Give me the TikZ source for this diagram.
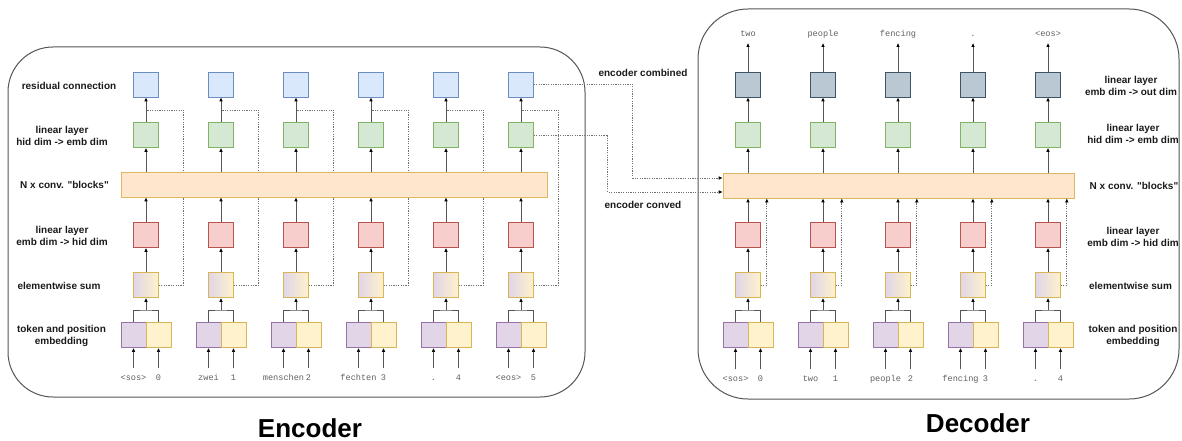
\documentclass[tikz,border=0pt]{standalone}
\usepackage{fontspec}
\setmainfont{Liberation Sans}[Ligatures=TeXOff]
\setmonofont{Liberation Mono}
\usetikzlibrary{arrows.meta,calc}
\definecolor{bluef}{HTML}{DAE8FC}\definecolor{bluel}{HTML}{6C8EBF}
\definecolor{greenf}{HTML}{D5E8D4}\definecolor{greenl}{HTML}{82B366}
\definecolor{redf}{HTML}{F8CECC}\definecolor{redl}{HTML}{B85450}
\definecolor{purpf}{HTML}{E1D5E7}\definecolor{purpl}{HTML}{9673A6}
\definecolor{yelf}{HTML}{FFF2CC}\definecolor{yell}{HTML}{D6B656}
\definecolor{orf}{HTML}{FFE6CC}\definecolor{orl}{HTML}{DDB860}
\definecolor{darkf}{HTML}{BAC8D3}\definecolor{darkl}{HTML}{3F5566}
\definecolor{linec}{HTML}{555555}
\definecolor{dotc}{HTML}{707070}
\definecolor{frame}{HTML}{555555}
\definecolor{tokc}{HTML}{606060}
\definecolor{lblc}{HTML}{1A1A1A}
\begin{document}
\begin{tikzpicture}[x=1pt,y=-1pt,
  box/.style={draw, minimum width=25pt, minimum height=25pt, inner sep=0pt, line width=0.6pt},
  bbox/.style={box, fill=bluef, draw=bluel},
  gbox/.style={box, fill=greenf, draw=greenl},
  rbox/.style={box, fill=redf, draw=redl},
  pbox/.style={box, fill=purpf, draw=purpl},
  ybox/.style={box, fill=yelf, draw=yell},
  dbox/.style={box, fill=darkf, draw=darkl},
  sbox/.style={box, left color=purpf, right color=yelf, draw=yell},
  convbar/.style={draw=orl, fill=orf, line width=0.6pt, minimum height=25pt, inner sep=0pt},
  container/.style={draw=frame, line width=1pt, inner sep=0pt},
  tok/.style={font=\ttfamily\fontsize{8.6}{10}\selectfont, text=tokc, text height=6pt, text depth=1.5pt, inner xsep=0pt, inner ysep=6pt},
  outtok/.style={font=\ttfamily\fontsize{8.6}{10}\selectfont, text=tokc, text height=6pt, text depth=1.5pt, inner xsep=0pt, inner ysep=5pt},
  lbl/.style={font=\bfseries\fontsize{10}{12}\selectfont, text=lblc, align=center, inner sep=0pt},
  big/.style={font=\bfseries\fontsize{26}{30}\selectfont, text=black, inner sep=0pt},
  plain/.style={draw=linec, line width=0.8pt},
  arr/.style={plain, -{Latex[length=4pt,width=3.6pt,color=black]}},
  dotline/.style={draw=dotc, line width=0.7pt, dash pattern=on 1.2pt off 1.2pt},
  dotarrow/.style={dotline, -{Latex[length=4pt,width=3.6pt,color=black]}}
]
\useasboundingbox (0,0) rectangle (1182,441);

% containers
\node[container, rounded corners=45pt, minimum width=577pt, minimum height=350pt] (encbox) at (296.5,222) {};
\node[container, rounded corners=50pt, minimum width=481pt, minimum height=390pt] (decbox) at (938.5,204) {};

% ---------- Encoder ----------
\foreach \i/\x/\tk/\ps in {1/146/{<sos>}/0, 2/221/zwei/1, 3/296/menschen/2, 4/371/fechten/3, 5/446/./4, 6/521/{<eos>}/5}{
  \node[bbox] (eb\i) at (\x,84.5) {};
  \node[gbox] (eg\i) at (\x,135) {};
  \node[rbox] (er\i) at (\x,235) {};
  \node[sbox] (es\i) at (\x,285) {};
  \node[pbox] (ep\i) at (\x-12.5,335) {};
  \node[ybox] (ey\i) at (\x+12.5,335) {};
  \node[tok] (et\i) at (\x-12.5,378) {\tk};
  \node[tok] (en\i) at (\x+12.5,378) {\ps};
  \coordinate (ej\i) at (\x,110);
  \coordinate (ek\i) at (\x,310);
  \draw[dotline] (es\i.east) -- ++(25,0) |- (ej\i);
}
\node[convbar, minimum width=426pt] (ebar) at (334,184.5) {};
\foreach \i in {1,...,6}{
  \draw[arr] (et\i) -- (ep\i);
  \draw[arr] (en\i) -- (ey\i);
  \draw[plain] (ep\i.north) |- (ek\i) -| (ey\i.north);
  \draw[arr] (ek\i) -- (es\i);
  \draw[arr] (es\i) -- (er\i);
  \draw[arr] (er\i.north) -- (er\i.north |- ebar.south);
  \draw[arr] (eg\i.south |- ebar.north) -- (eg\i);
  \draw[arr] (eg\i) -- (eb\i);
}

% encoder labels
\node[lbl] (l1) at (69,86) {residual connection};
\node[lbl] (l2) at (62,136) {linear layer\\hid dim -> emb dim};
\node[lbl] (l3) at (64.5,185) {N x conv. "blocks"};
\node[lbl] (l4) at (62,236) {linear layer\\emb dim -> hid dim};
\node[lbl] (l5) at (59,286) {elementwise sum};
\node[lbl] (l6) at (61.5,336) {token and position\\embedding};

% ---------- Decoder ----------
\foreach \i/\x/\tk/\ps/\out in {1/748/{<sos>}/0/two, 2/823/two/1/people, 3/898/people/2/fencing, 4/973/fencing/3/., 5/1048/./4/{<eos>}}{
  \node[dbox] (dd\i) at (\x,84.5) {};
  \node[gbox] (dg\i) at (\x,135) {};
  \node[rbox] (dr\i) at (\x,235) {};
  \node[sbox] (ds\i) at (\x,285) {};
  \node[pbox] (dp\i) at (\x-12.5,335) {};
  \node[ybox] (dy\i) at (\x+12.5,335) {};
  \node[tok] (dt\i) at (\x-12.5,379) {\tk};
  \node[tok] (dn\i) at (\x+12.5,379) {\ps};
  \node[outtok] (do\i) at (\x,34) {\out};
  \coordinate (dk\i) at (\x,310);
}
\node[convbar, minimum width=351pt] (dbar) at (898.5,185.5) {};
\foreach \i in {1,...,5}{
  \draw[arr] (dt\i) -- (dp\i);
  \draw[arr] (dn\i) -- (dy\i);
  \draw[plain] (dp\i.north) |- (dk\i) -| (dy\i.north);
  \draw[arr] (dk\i) -- (ds\i);
  \draw[arr] (ds\i) -- (dr\i);
  \draw[arr] (dr\i.north) -- (dr\i.north |- dbar.south);
  \draw[dotarrow] (ds\i.east) -- ++(6,0) coordinate (dc\i) -- (dc\i |- dbar.south);
  \draw[arr] (dg\i.south |- dbar.north) -- (dg\i);
  \draw[arr] (dg\i) -- (dd\i);
  \draw[arr] (dd\i) -- (do\i);
}

% decoder labels
\node[lbl] (r1) at (1131,86) {linear layer\\emb dim -> out dim};
\node[lbl] (r2) at (1133,134) {linear layer\\hid dim -> emb dim};
\node[lbl] (r3) at (1134,185.5) {N x conv. "blocks"};
\node[lbl] (r4) at (1133,237) {linear layer\\emb dim -> hid dim};
\node[lbl] (r5) at (1130.5,286) {elementwise sum};
\node[lbl] (r6) at (1133,336) {token and position\\embedding};

% encoder -> decoder
\coordinate (inA) at ($(dbar.west)+(0,-7.5)$);
\coordinate (inB) at ($(dbar.west)+(0,6.5)$);
\draw[dotarrow] (eb6.east) -- ++(99,0) |- (inA);
\draw[dotarrow] (eg6.east) -- ++(74,0) |- (inB);
\node[lbl] (lc1) at (643,73) {encoder combined};
\node[lbl] (lc2) at (643,205) {encoder conved};

% titles
\node[big] (tenc) at (310,428) {Encoder};
\node[big] (tdec) at (978,423.5) {Decoder};
\end{tikzpicture}
\end{document}
